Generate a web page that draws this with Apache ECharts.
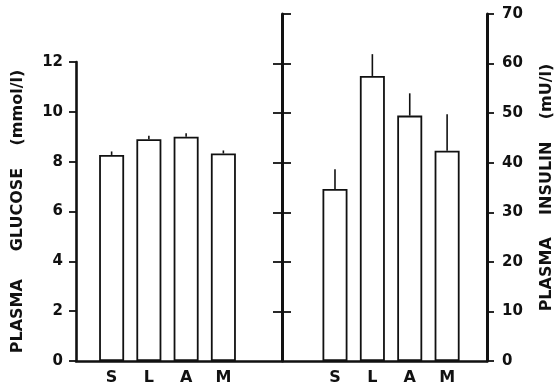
<!DOCTYPE html>
<html>
<head>
<meta charset="utf-8">
<script src="https://cdn.jsdelivr.net/npm/echarts@6/dist/echarts.min.js"></script>
<style>
  html, body { margin: 0; padding: 0; background: #fff; }
  #chart { width: 555px; height: 391px; }
</style>
</head>
<body>
<div id="chart"></div>
<script>
  // groups on both panels
  const groups = ['S', 'L', 'A', 'M']
  // plasma glucose (mmol/l), mean and SEM
  const glucose = [8.27, 8.9, 9.0, 8.33]
  const glucoseErr = [0.14, 0.14, 0.14, 0.12]
  // plasma insulin (mU/l), mean and SEM
  const insulin = [34.7, 57.5, 49.5, 42.4]
  const insulinErr = [4.0, 4.4, 4.5, 7.4]
  // tick values of the middle axis
  const midTicksOut = [10, 20, 30, 40, 50, 60]
  const midTicksIn = [10, 20, 30, 40, 50, 60, 70]

  const font = 'DejaVu Sans'
  const black = '#111'

  const chart = echarts.init(document.getElementById('chart'), null, { renderer: 'canvas' })

  // whisker drawn upward from the bar top
  function errorBar(params, api) {
    const i = api.value(0)
    const base = api.coord([i, api.value(1)])
    const top = api.coord([i, api.value(1) + api.value(2)])
    return {
      type: 'line',
      shape: { x1: base[0], y1: base[1], x2: top[0], y2: top[1] },
      style: { stroke: black, lineWidth: 1.6 }
    }
  }

  const barStyle = { color: '#fff', borderColor: black, borderWidth: 1.8 }
  const catAxis = (gridIndex) => ({
    type: 'category',
    gridIndex: gridIndex,
    data: groups,
    axisLine: { show: false },
    axisTick: { show: false },
    axisLabel: { color: black, fontFamily: font, fontWeight: 'bold', fontSize: 16, margin: 9 }
  })

  const option = {
    animation: false,
    backgroundColor: '#fff',
    grid: [
      { left: 93, width: 149, top: 62, height: 299, outerBoundsMode: 'none' },
      { left: 316.3, width: 149.5, top: 14, height: 347, outerBoundsMode: 'none' },
      { left: 76, width: 411, top: 14, height: 347, outerBoundsMode: 'none' }
    ],
    xAxis: [
      catAxis(0),
      catAxis(1),
      {
        // common base line for both panels
        type: 'value', gridIndex: 2, min: 0, max: 1,
        axisLine: { show: true, lineStyle: { color: black, width: 2.6 } },
        axisTick: { show: false }, axisLabel: { show: false }, splitLine: { show: false }
      }
    ],
    yAxis: [
      {
        type: 'value', gridIndex: 0, min: 0, max: 12, interval: 2,
        position: 'left', offset: 17,
        name: 'PLASMA     GLUCOSE    (mmol/l)',
        nameLocation: 'middle', nameRotate: 90, nameGap: 50,
        nameTextStyle: { color: black, fontFamily: font, fontWeight: 'bold', fontSize: 16 },
        axisLine: { show: true, lineStyle: { color: black, width: 2.6 } },
        axisTick: { show: true, length: 7, lineStyle: { color: black, width: 1.8 } },
        axisLabel: { color: black, fontFamily: font, fontWeight: 'bold', fontSize: 15, margin: 13 },
        splitLine: { show: false }
      },
      {
        // middle axis, ticks going out
        type: 'value', gridIndex: 1, min: 0, max: 70, interval: 10,
        position: 'left', offset: 34.3,
        axisLine: { show: true, lineStyle: { color: black, width: 3 } },
        axisTick: { show: true, length: 9, customValues: midTicksOut, lineStyle: { color: black, width: 1.8 } },
        axisLabel: { show: false },
        splitLine: { show: false }
      },
      {
        // middle axis, ticks going in
        type: 'value', gridIndex: 1, min: 0, max: 70, interval: 10,
        position: 'left', offset: 34.3,
        axisLine: { show: false },
        axisTick: { show: true, inside: true, length: 9, customValues: midTicksIn, lineStyle: { color: black, width: 1.8 } },
        axisLabel: { show: false },
        splitLine: { show: false }
      },
      {
        type: 'value', gridIndex: 1, min: 0, max: 70, interval: 10,
        position: 'right', offset: 21.2,
        name: 'PLASMA    INSULIN    (mU/l)',
        nameLocation: 'middle', nameRotate: 90, nameGap: 52,
        nameTextStyle: { color: black, fontFamily: font, fontWeight: 'bold', fontSize: 16 },
        axisLine: { show: true, lineStyle: { color: black, width: 3 } },
        axisTick: { show: true, length: 7, lineStyle: { color: black, width: 1.8 } },
        axisLabel: { color: black, fontFamily: font, fontWeight: 'bold', fontSize: 15, margin: 15 },
        splitLine: { show: false }
      },
      { type: 'value', gridIndex: 2, show: false, min: 0, max: 1 }
    ],
    series: [
      {
        type: 'bar', xAxisIndex: 0, yAxisIndex: 0,
        data: glucose, barWidth: 25, itemStyle: barStyle
      },
      {
        type: 'custom', xAxisIndex: 0, yAxisIndex: 0,
        renderItem: errorBar,
        data: glucose.map((v, i) => [i, v, glucoseErr[i]])
      },
      {
        type: 'bar', xAxisIndex: 1, yAxisIndex: 3,
        data: insulin, barWidth: 25, itemStyle: barStyle
      },
      {
        type: 'custom', xAxisIndex: 1, yAxisIndex: 3,
        renderItem: errorBar,
        data: insulin.map((v, i) => [i, v, insulinErr[i]])
      }
    ]
  }

  chart.setOption(option)
</script>
</body>
</html>
